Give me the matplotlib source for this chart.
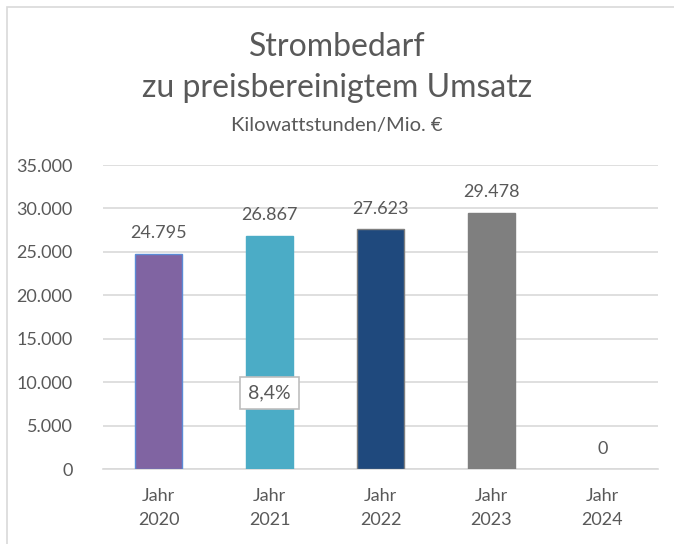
import matplotlib
matplotlib.use("Agg")
import matplotlib.pyplot as plt
from matplotlib.patches import Rectangle
from matplotlib.ticker import FuncFormatter

# Strombedarf in kWh je Mio. Euro preisbereinigtem Umsatz
categories = ["Jahr\n2020", "Jahr\n2021", "Jahr\n2022", "Jahr\n2023", "Jahr\n2024"]
values = [24795, 26867, 27623, 29478, 0]
bar_colors = ["#8064A2", "#4BACC6", "#1F497D", "#7F7F7F", "#7F7F7F"]
edge_colors = ["#5B8BD6", "#4BACC6", "#7F7F7F", "#7F7F7F", "none"]
y_ticks = [0, 5000, 10000, 15000, 20000, 25000, 30000, 35000]

TEXT = "#595959"
plt.rcParams["font.family"] = ["Lato", "DejaVu Sans"]


def de_number(v, pos=None):
    # German thousands separator
    return f"{v:,.0f}".replace(",", ".")


fig = plt.figure(figsize=(6.74, 5.44), dpi=100)
ax = fig.add_axes([103 / 674, 1 - 469 / 544, 555 / 674, 304 / 544])

x = range(len(values))
bars = ax.bar(x, values, width=0.42, color=bar_colors, edgecolor=edge_colors,
              linewidth=1.0, zorder=3)

for xi, v in zip(x, values):
    ax.annotate(de_number(v), (xi, v), xytext=(0, 9), textcoords="offset points",
                ha="center", va="bottom", fontsize=13, color=TEXT)

# change 2020 -> 2021 as callout on the 2021 bar
change = (values[1] / values[0] - 1) * 100
ax.text(1, 8750, f"{change:.1f}%".replace(".", ","), ha="center", va="center",
        fontsize=14, color=TEXT, zorder=5,
        bbox=dict(boxstyle="square,pad=0.4", fc="white", ec="#BFBFBF", lw=1.2))

ax.set_xlim(-0.5, len(values) - 0.5)
ax.set_ylim(0, 35000)
ax.set_yticks(y_ticks)
ax.yaxis.set_major_formatter(FuncFormatter(de_number))
ax.set_xticks(list(x))
ax.set_xticklabels(categories, linespacing=1.55)
ax.tick_params(axis="y", length=0, pad=22, labelsize=13, labelcolor=TEXT)
ax.tick_params(axis="x", length=0, pad=14, labelsize=13, labelcolor=TEXT)
ax.grid(axis="y", color="#D9D9D9", linewidth=1.2, zorder=0)
for side in ["top", "right", "left"]:
    ax.spines[side].set_visible(False)
ax.spines["bottom"].set_color("#D9D9D9")
ax.spines["bottom"].set_linewidth(1.2)

fig.text(0.5, 1 - 47 / 544, "Strombedarf", ha="center", va="center",
         fontsize=23, color=TEXT)
fig.text(0.5, 1 - 88 / 544, "zu preisbereinigtem Umsatz", ha="center", va="center",
         fontsize=23, color=TEXT)
fig.text(0.5, 1 - 125 / 544, "Kilowattstunden/Mio. €", ha="center", va="center",
         fontsize=14.5, color=TEXT)

# chart frame
fig.patches.append(Rectangle((7 / 674, -0.1), 1.2, 1.1 - 7 / 544, transform=fig.transFigure,
                             fill=False, ec="#D9D9D9", lw=1.2))

fig.savefig("out.png", dpi=100)
